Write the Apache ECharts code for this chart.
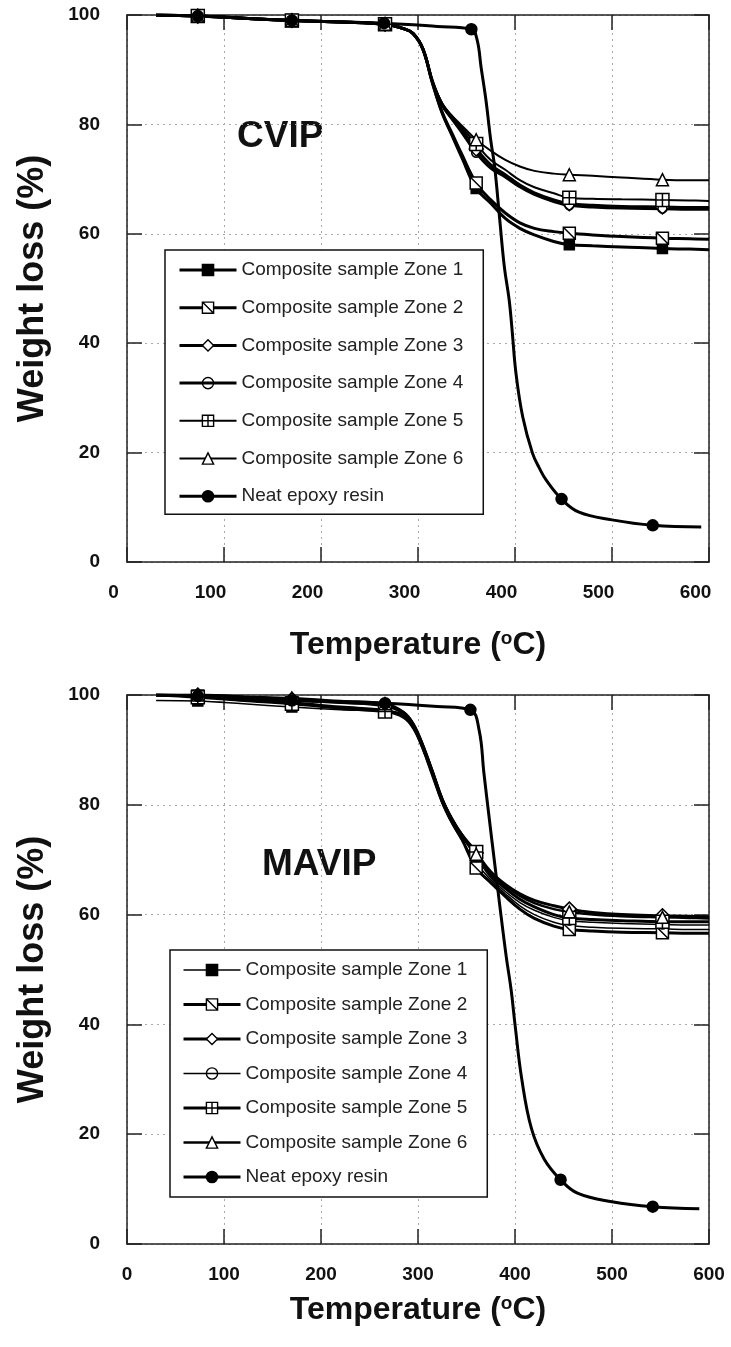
<!DOCTYPE html>
<html>
<head>
<meta charset="utf-8">
<script src="https://cdn.jsdelivr.net/npm/echarts@6/dist/echarts.min.js"></script>
<style>
  html, body { margin: 0; padding: 0; background: #fff; }
  #top { width: 731px; height: 675px; }
  #bottom { width: 731px; height: 672px; }
</style>
</head>
<body>
<div id="top"></div>
<div id="bottom"></div>
<script>
// ---- data ----
const zoneNames = ['Composite sample Zone 1', 'Composite sample Zone 2', 'Composite sample Zone 3',
  'Composite sample Zone 4', 'Composite sample Zone 5', 'Composite sample Zone 6']
const neatName = 'Neat epoxy resin'

// temperature grid shared by the composite curves (degC)
const compTemp = [30, 73, 120, 170, 220, 266, 285, 295, 305, 315, 325, 335, 345, 360, 375, 390, 405, 420, 440, 456, 480, 510, 552, 580, 600]
const compMarks = [73, 170, 266, 360, 456, 552]

// CVIP
const cvipZone1 = [100, 99.8, 99.4, 99.0, 98.7, 98.3, 97.5, 96.6, 93.8, 87.5, 82.0, 78.0, 74.0, 68.3, 65.6, 62.8, 61.0, 59.8, 58.6, 58.0, 57.8, 57.6, 57.3, 57.2, 57.1]
const cvipZone2 = [100, 99.8, 99.4, 99.0, 98.7, 98.3, 97.5, 96.6, 93.8, 87.5, 82.2, 78.4, 74.6, 69.3, 66.2, 63.8, 62.0, 61.0, 60.4, 60.1, 59.8, 59.5, 59.2, 59.1, 59.0]
const cvipZone3 = [100, 99.8, 99.4, 99.0, 98.7, 98.3, 97.5, 96.6, 93.8, 87.8, 83.6, 81.2, 79.0, 75.5, 72.6, 70.8, 68.9, 67.5, 66.2, 65.5, 65.2, 65.0, 64.9, 64.8, 64.8]
const cvipZone4 = [100, 99.8, 99.4, 99.0, 98.7, 98.3, 97.5, 96.6, 93.8, 87.8, 83.5, 81.0, 78.6, 74.8, 72.0, 70.4, 68.6, 67.2, 65.9, 65.2, 64.9, 64.7, 64.6, 64.5, 64.5]
const cvipZone5 = [100, 99.8, 99.4, 99.0, 98.7, 98.3, 97.5, 96.6, 93.8, 87.8, 83.8, 81.5, 79.5, 76.4, 73.5, 71.7, 69.8, 68.5, 67.4, 66.6, 66.4, 66.3, 66.2, 66.1, 66.0]
const cvipZone6 = [100, 99.8, 99.4, 99.0, 98.7, 98.3, 97.5, 96.6, 93.8, 87.8, 83.8, 81.6, 79.8, 77.2, 75.2, 73.5, 72.3, 71.5, 71.0, 70.8, 70.6, 70.3, 69.9, 69.8, 69.8]
const cvipNeatTemp = [30, 73, 170, 265, 320, 355, 361, 365, 370, 375, 379, 384, 389, 394, 397, 401, 408, 418, 425, 432, 448, 466, 500, 542, 592]
const cvipNeat = [100, 99.8, 99.0, 98.5, 97.9, 97.4, 95.4, 90.5, 84.5, 77.1, 72.3, 63.1, 54.0, 47.9, 42.4, 34.5, 26.5, 19.9, 17.2, 15.0, 11.5, 9.1, 7.7, 6.7, 6.4]
const cvipNeatMarks = [73, 170, 265, 355, 448, 542]

// MAVIP
const mavipZone1 = [99.0, 98.9, 98.4, 97.8, 97.3, 96.9, 95.8, 93.8, 90.0, 85.2, 80.3, 76.6, 73.6, 69.5, 66.3, 63.8, 61.6, 60.0, 58.6, 58.0, 57.7, 57.5, 57.4, 57.3, 57.3]
const mavipZone2 = [100, 99.8, 99.2, 98.6, 97.8, 97.2, 96.2, 94.2, 90.3, 85.4, 80.5, 76.8, 73.8, 68.5, 65.8, 63.3, 61.0, 59.3, 57.9, 57.3, 57.0, 56.8, 56.7, 56.6, 56.6]
const mavipZone3 = [100, 100, 99.6, 99.2, 98.7, 98.2, 96.8, 94.7, 90.8, 86.0, 81.0, 77.4, 74.6, 71.2, 67.8, 65.5, 63.8, 62.6, 61.6, 61.0, 60.4, 60.0, 59.8, 59.7, 59.6]
const mavipZone4 = [100, 99.9, 99.5, 99.0, 98.5, 97.9, 96.5, 94.4, 90.5, 85.7, 80.7, 77.0, 74.2, 70.5, 66.7, 64.2, 62.2, 60.8, 59.5, 58.9, 58.6, 58.4, 58.2, 58.1, 58.1]
const mavipZone5 = [100, 99.6, 99.0, 98.4, 97.6, 97.0, 96.3, 94.4, 90.6, 85.9, 80.9, 77.3, 74.5, 71.4, 67.2, 64.8, 62.8, 61.4, 60.0, 59.4, 59.1, 58.9, 58.7, 58.7, 58.7]
const mavipZone6 = [100, 100, 99.7, 99.4, 98.9, 98.4, 96.9, 94.8, 90.9, 86.0, 81.0, 77.4, 74.6, 71.0, 67.5, 65.2, 63.4, 62.1, 61.0, 60.5, 60.0, 59.7, 59.5, 59.4, 59.3]
const mavipNeatTemp = [30, 73, 170, 266, 320, 354, 363, 368, 374, 379, 384, 391, 396, 400, 407, 417, 430, 447, 465, 500, 542, 590]
const mavipNeat = [100, 99.8, 99.0, 98.5, 97.9, 97.3, 93.6, 85.7, 76.7, 69.4, 62.1, 52.3, 46.3, 40.0, 30.0, 21.0, 15.5, 11.7, 9.2, 7.7, 6.8, 6.4]
const mavipNeatMarks = [73, 170, 266, 354, 447, 542]

const xTicks = [0, 100, 200, 300, 400, 500, 600]
const yTicks = [0, 20, 40, 60, 80, 100]

// ---- styling ----
const FONT = 'Liberation Sans, Arial, sans-serif'
const zoneSymbols = [
  { symbol: 'rect', size: 10, fill: '#000' },
  { symbol: 'path://M0,0H10V10H0Z M0,0L10,10', size: 12, fill: '#fff' },
  { symbol: 'diamond', size: 14, fill: '#fff' },
  { symbol: 'circle', size: 9, fill: 'rgba(255,255,255,0)' },
  { symbol: 'path://M0,0H10V10H0Z M5,0V10 M0,5H10', size: 13, fill: '#fff' },
  { symbol: 'triangle', size: 12, fill: '#fff' }
]
const neatSymbol = { symbol: 'circle', size: 11, fill: '#000' }

function lineSeries(name, xs, ys, marks, sym, width) {
  return {
    type: 'line',
    name: name,
    data: xs.map((x, i) => [x, ys[i]]),
    smooth: 0.4,
    symbol: sym.symbol,
    symbolSize: (v) => marks.indexOf(v[0]) >= 0 ? sym.size : 0,
    showAllSymbol: true,
    lineStyle: { color: '#000', width: width },
    itemStyle: { color: sym.fill, borderColor: '#000', borderWidth: 1.5 },
    emphasis: { disabled: true },
    animation: false
  }
}

function axisPair(kind, shiftLabels) {
  const isX = kind === 'x'
  const ticks = isX ? xTicks : yTicks
  const base = {
    type: 'value',
    min: ticks[0],
    max: ticks[ticks.length - 1],
    interval: ticks[1] - ticks[0],
    axisLine: { show: true, onZero: false, lineStyle: { color: '#222', width: 1.5 } },
    axisTick: { show: true, inside: true, length: 15, lineStyle: { color: '#222', width: 1.5 } },
    minorTick: { show: false }
  }
  const main = Object.assign({}, base, {
    position: isX ? 'bottom' : 'left',
    axisLabel: {
      fontFamily: FONT, fontWeight: 'bold', fontSize: 19, color: '#111',
      margin: isX ? 21 : 27,
      padding: shiftLabels ? [0, 27, 0, 0] : 0
    },
    splitLine: { show: true, lineStyle: { color: '#aaa', width: 1, type: [2, 4] } },
    name: isX ? 'Temperature ({sup|o}C)' : 'Weight loss (%)',
    nameLocation: 'middle',
    nameGap: isX ? 0 : 76,
    nameTextStyle: {
      fontFamily: FONT, fontWeight: 'bold', fontSize: isX ? 32 : 36, color: '#111',
      rich: { sup: { fontFamily: FONT, fontWeight: 'bold', fontSize: 19, verticalAlign: 'top', lineHeight: 32, color: '#111' } }
    }
  })
  const opp = Object.assign({}, base, {
    position: isX ? 'top' : 'right',
    axisLabel: { show: false },
    splitLine: { show: false }
  })
  return [main, opp]
}

function buildPanel(el, cfg) {
  const chart = echarts.init(el, null, { renderer: 'canvas' })
  const xs = axisPair('x', cfg.shiftLabels)
  xs[0].nameGap = cfg.xNameGap
  const series = cfg.zones.map((ys, i) =>
    lineSeries(zoneNames[i], compTemp, ys, compMarks, zoneSymbols[i], cfg.widths[i]))
  series.push(lineSeries(neatName, cfg.neatTemp, cfg.neat, cfg.neatMarks, neatSymbol, cfg.widths[6]))
  const names = zoneNames.concat([neatName])
  chart.setOption({
    animation: false,
    grid: { left: 127, top: cfg.gridTop, width: 582, height: cfg.gridHeight, containLabel: false },
    xAxis: xs,
    yAxis: axisPair('y', false),
    legend: {
      orient: 'vertical',
      left: cfg.legend.left,
      top: cfg.legend.top,
      padding: cfg.legend.padding,
      itemGap: cfg.legend.gap,
      itemWidth: 57,
      itemHeight: 14,
      backgroundColor: '#fff',
      borderColor: '#111',
      borderWidth: 1.5,
      borderRadius: 0,
      selectedMode: false,
      textStyle: { fontFamily: FONT, fontSize: 19, lineHeight: 20, color: '#222' },
      itemStyle: { borderWidth: 1.4, borderColor: '#000' },
      data: names.map((n, i) => ({ name: n, lineStyle: { color: '#000', width: cfg.widths[i] } }))
    },
    graphic: [{
      type: 'text',
      left: cfg.label.left,
      top: cfg.label.top,
      style: { text: cfg.label.text, font: 'bold 37px ' + FONT, fill: '#111' }
    }],
    series: series
  })
  return chart
}

buildPanel(document.getElementById('top'), {
  zones: [cvipZone1, cvipZone2, cvipZone3, cvipZone4, cvipZone5, cvipZone6],
  neatTemp: cvipNeatTemp, neat: cvipNeat, neatMarks: cvipNeatMarks,
  widths: [3, 3, 3, 3, 2, 2, 3],
  gridTop: 15, gridHeight: 547,
  shiftLabels: true,
  xNameGap: 67,
  legend: { left: 165, top: 250, padding: [10, 20, 8, 13], gap: 17.7 },
  label: { text: 'CVIP', left: 237, top: 118 }
})

buildPanel(document.getElementById('bottom'), {
  zones: [mavipZone1, mavipZone2, mavipZone3, mavipZone4, mavipZone5, mavipZone6],
  neatTemp: mavipNeatTemp, neat: mavipNeat, neatMarks: mavipNeatMarks,
  widths: [1.5, 3, 3, 1.5, 3, 2.5, 3],
  gridTop: 20, gridHeight: 549,
  shiftLabels: false,
  xNameGap: 50,
  legend: { left: 170, top: 275, padding: [10, 20, 10, 12], gap: 14.5 },
  label: { text: 'MAVIP', left: 262, top: 171 }
})
</script>
</body>
</html>
